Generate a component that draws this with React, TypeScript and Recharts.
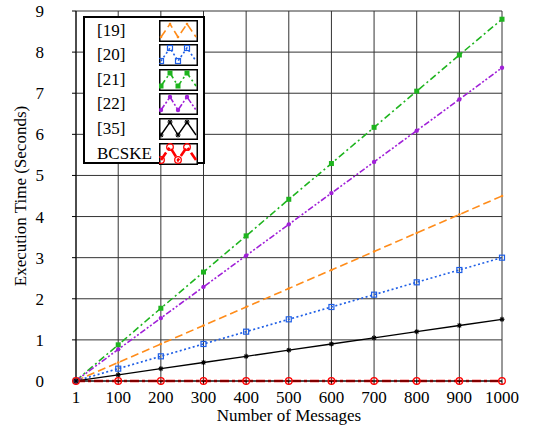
import { CartesianGrid, Line, LineChart, XAxis, YAxis } from "recharts";

const messages = [1, 100, 200, 300, 400, 500, 600, 700, 800, 900, 1000];
const ref19 = [0.005, 0.45, 0.9, 1.35, 1.8, 2.25, 2.7, 3.15, 3.6, 4.05, 4.5];
const ref20 = [0.003, 0.3, 0.6, 0.9, 1.2, 1.5, 1.8, 2.1, 2.4, 2.7, 3.0];
const ref21 = [0.009, 0.88, 1.77, 2.65, 3.53, 4.42, 5.29, 6.17, 7.05, 7.93, 8.8];
const ref22 = [0.008, 0.77, 1.53, 2.29, 3.05, 3.81, 4.57, 5.33, 6.09, 6.85, 7.62];
const ref35 = [0.002, 0.15, 0.3, 0.45, 0.6, 0.75, 0.9, 1.05, 1.2, 1.35, 1.5];
const bcske = [0.001, 0.001, 0.001, 0.001, 0.001, 0.001, 0.001, 0.001, 0.001, 0.001, 0.001];
const yTicks = [0, 1, 2, 3, 4, 5, 6, 7, 8, 9];

const FONT = "Liberation Serif, Times New Roman, serif";
const textStyle = { fontFamily: FONT, fontSize: 17 };

type Marker = "dot" | "openSquare" | "square" | "circle" | "star" | "openCircle";

const series: { key: string; name: string; color: string; dash?: string; width: number; marker: Marker }[] = [
  { key: "r19", name: "[19]", color: "#ff8c1a", dash: "8 4", width: 1.6, marker: "dot" },
  { key: "r20", name: "[20]", color: "#1f5fe6", dash: "2 2.5", width: 1.6, marker: "openSquare" },
  { key: "r21", name: "[21]", color: "#1eb41e", dash: "7 3 2 3", width: 1.6, marker: "square" },
  { key: "r22", name: "[22]", color: "#a020d8", dash: "6 2 2 2 2 2", width: 1.6, marker: "circle" },
  { key: "r35", name: "[35]", color: "#000000", width: 1.4, marker: "star" },
  { key: "bcske", name: "BCSKE", color: "#ff0000", dash: "9 3 3 3", width: 2.6, marker: "openCircle" },
];

const data = messages.map((m, i) => ({
  m,
  r19: ref19[i],
  r20: ref20[i],
  r21: ref21[i],
  r22: ref22[i],
  r35: ref35[i],
  bcske: bcske[i],
}));

function markerShape(marker: Marker, color: string, cx: number, cy: number, k?: string | number) {
  switch (marker) {
    case "dot":
      return <circle key={k} cx={cx} cy={cy} r={1.3} fill={color} />;
    case "openSquare":
      return <rect key={k} x={cx - 2.5} y={cy - 2.5} width={5} height={5} fill="none" stroke={color} strokeWidth={1.2} />;
    case "square":
      return <rect key={k} x={cx - 2.5} y={cy - 2.5} width={5} height={5} fill={color} />;
    case "circle":
      return <circle key={k} cx={cx} cy={cy} r={2.2} fill={color} />;
    case "star":
      return (
        <g key={k} stroke={color} strokeWidth={1.1}>
          <line x1={cx - 2.5} y1={cy} x2={cx + 2.5} y2={cy} />
          <line x1={cx} y1={cy - 2.5} x2={cx} y2={cy + 2.5} />
          <line x1={cx - 1.8} y1={cy - 1.8} x2={cx + 1.8} y2={cy + 1.8} />
          <line x1={cx - 1.8} y1={cy + 1.8} x2={cx + 1.8} y2={cy - 1.8} />
        </g>
      );
    case "openCircle":
      return <circle key={k} cx={cx} cy={cy} r={3.3} fill="none" stroke={color} strokeWidth={1.3} />;
  }
}

function LegendIcon({ s }: { s: (typeof series)[number] }) {
  const pts: [number, number][] = [
    [2, 17],
    [11, 4],
    [19, 17],
    [28, 4],
    [37, 17],
  ];
  return (
    <svg width={39} height={22} style={{ display: "block" }}>
      <rect x={0.75} y={0.75} width={37.5} height={20.5} fill="#fff" stroke="#000" strokeWidth={1.5} />
      <polyline
        points={pts.map((p) => p.join(",")).join(" ")}
        fill="none"
        stroke={s.color}
        strokeWidth={s.width}
        strokeDasharray={s.dash}
      />
      {pts.slice(0, 4).map((p, i) => markerShape(s.marker, s.color, p[0], p[1], i))}
    </svg>
  );
}

function ChartLegend() {
  return (
    <div
      style={{
        position: "absolute",
        left: 83,
        top: 16,
        width: 122,
        height: 148,
        boxSizing: "border-box",
        border: "2px solid #000",
        background: "#fff",
        ...textStyle,
      }}
    >
      {series.map((s, i) => (
        <div key={s.key} style={{ position: "absolute", left: 0, top: 0.5 + i * 24.6, height: 24.6, width: "100%" }}>
          <span style={{ position: "absolute", left: 12, top: 2, lineHeight: "20px" }}>{s.name}</span>
          <div style={{ position: "absolute", left: 74, top: 1 }}>
            <LegendIcon s={s} />
          </div>
        </div>
      ))}
    </div>
  );
}

export default function App() {
  return (
    <div style={{ position: "relative", width: 536, height: 433, background: "#fff" }}>
      <style>{"body{margin:0}"}</style>
      <LineChart
        width={536}
        height={433}
        data={data}
        margin={{ top: 11, right: 34, bottom: 22, left: 0 }}
        style={{ fontFamily: FONT }}
      >
        <CartesianGrid stroke="#333" strokeWidth={1} />
        <XAxis
          dataKey="m"
          type="number"
          domain={[1, 1000]}
          ticks={messages}
          height={30}
          tickSize={4}
          tickMargin={6}
          stroke="#000"
          tick={{ fill: "#000", style: textStyle }}
          label={{
            content: ({ viewBox }: any) => (
              <text
                x={viewBox.x + viewBox.width / 2}
                y={viewBox.y + 40}
                textAnchor="middle"
                style={textStyle}
                fill="#000"
              >
                Number of Messages
              </text>
            ),
          }}
        />
        <YAxis
          type="number"
          domain={[0, 9]}
          ticks={yTicks}
          width={76}
          tickSize={4}
          tickMargin={28}
          stroke="#000"
          tick={{ fill: "#000", style: textStyle }}
          label={{
            content: ({ viewBox }: any) => {
              const cx = 22;
              const cy = viewBox.y + viewBox.height / 2;
              return (
                <text
                  x={cx}
                  y={cy}
                  transform={`rotate(-90 ${cx} ${cy})`}
                  textAnchor="middle"
                  dominantBaseline="middle"
                  style={textStyle}
                  fill="#000"
                >
                  Execution Time (Seconds)
                </text>
              );
            },
          }}
        />
        {series.map((s) => (
          <Line
            key={s.key}
            dataKey={s.key}
            name={s.name}
            stroke={s.color}
            strokeWidth={s.width}
            strokeDasharray={s.dash}
            isAnimationActive={false}
            dot={(p: any) => markerShape(s.marker, s.color, p.cx, p.cy, `${s.key}-${p.index}`)}
            activeDot={false}
          />
        ))}
      </LineChart>
      <ChartLegend />
    </div>
  );
}
